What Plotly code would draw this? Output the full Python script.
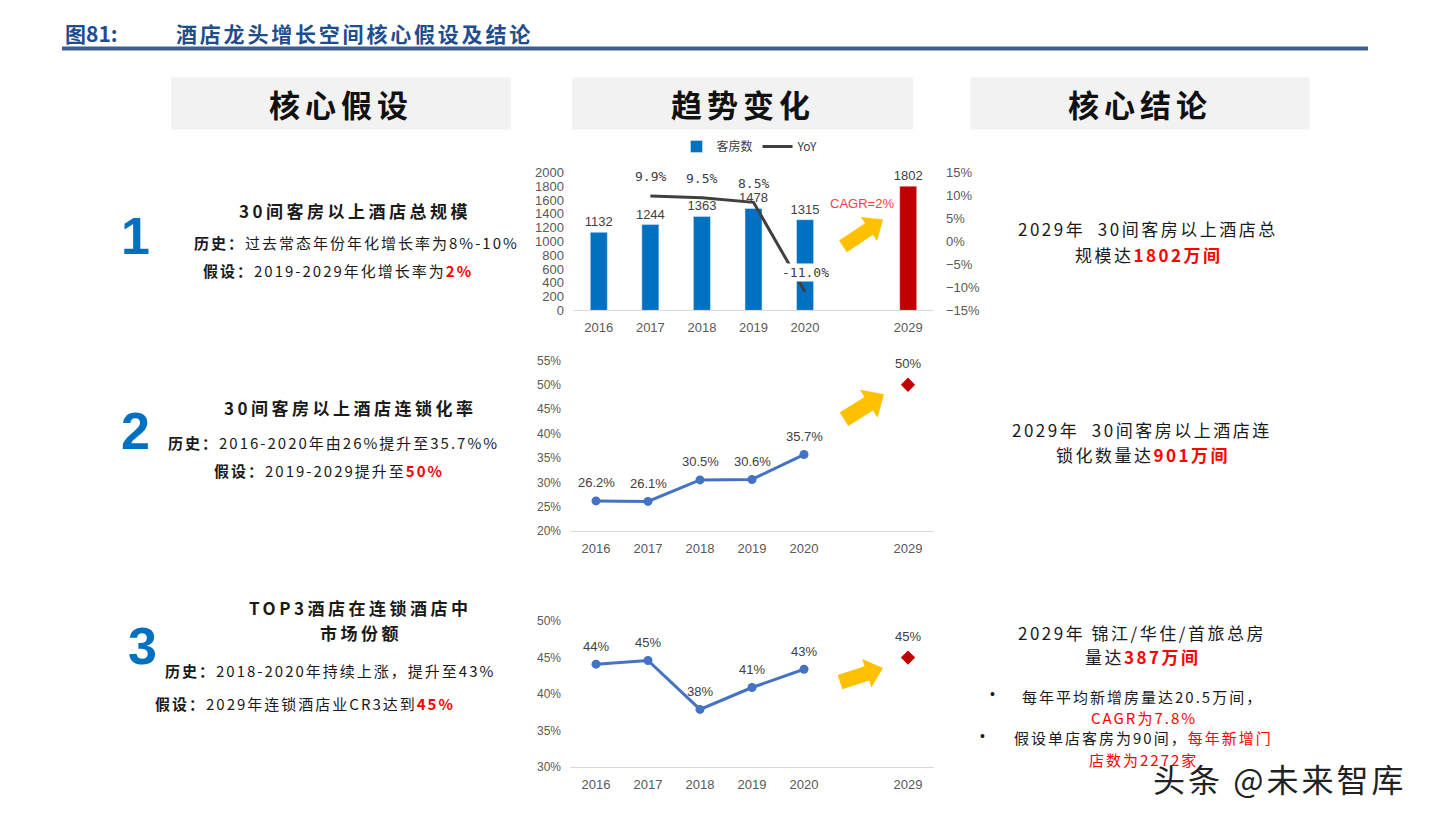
import math

import plotly.graph_objects as go

W, H = 1433, 821

# ── data ────────────────────────────────────────────────────────────────
categories = ["2016", "2017", "2018", "2019", "2020", " ", "2029"]
hist_years = ["2016", "2017", "2018", "2019", "2020"]
target_year = ["2029"]

rooms = [1132, 1244, 1363, 1478, 1315]          # 万间
rooms_2029 = [1802]
yoy_years = ["2017", "2018", "2019", "2020"]
yoy = [9.9, 9.5, 8.5, -11.0]                     # %

chain_rate = [26.2, 26.1, 30.5, 30.6, 35.7]      # %
chain_2029 = [50]

top3_share = [44.1, 44.6, 37.9, 40.9, 43.4]      # %
top3_2029 = [45]

# ── styles ──────────────────────────────────────────────────────────────
BAR_BLUE = "#0070C0"
DARK_RED = "#C00000"
LINE_BLUE = "#4472C4"
YOY_GREY = "#404040"
ARROW_YELLOW = "#FFC000"
TICK_GREY = "#595959"
EMPH_RED = "#FF0000"
TITLE_BLUE = "#1F4E8C"
CJK = "Noto Sans CJK SC"
LAT = "Liberation Sans, Arial, sans-serif"
MONO = "DejaVu Sans Mono, monospace"

# the page renders with a small offset / squeeze; positions below are given in
# reference-picture pixels and mapped back through these
PAGE_DX, PAGE_DY, PAGE_SY = 8.0, 14.4, 0.9825


def px(x):
    return (x - PAGE_DX) / W


def py(y):
    return 1 - ((y - PAGE_DY) / PAGE_SY) / H


def red(s):
    return f'<b><span style="color:{EMPH_RED}">{s}</span></b>'


def note(x, y, text, size, color="#1a1a1a", family=CJK, spacing=0,
         xanchor="center", bold=False):
    if bold:
        text = f"<b>{text}</b>"
    if spacing:
        text = f'<span style="letter-spacing:{spacing}px">{text}</span>'
    return dict(x=px(x), y=py(y), xref="paper", yref="paper", text=text,
                showarrow=False, xanchor=xanchor, yanchor="middle",
                font=dict(family=family, size=size, color=color))


def point_label(cat, val, text, xref, yref, shift=18, family=LAT, bg=None):
    return dict(x=categories.index(cat), y=val, xref=xref, yref=yref, text=text,
                showarrow=False, yshift=shift,
                bgcolor=bg or "rgba(0,0,0,0)",
                font=dict(family=family, size=13, color=YOY_GREY))


def block_arrow(tail, tip, shaft, head, head_len):
    (x0, y0), (x1, y1) = tail, tip
    dx, dy = x1 - x0, y1 - y0
    length = math.hypot(dx, dy)
    ux, uy = dx / length, dy / length
    nx, ny = -uy, ux
    bx, by = x1 - ux * head_len, y1 - uy * head_len
    pts = [
        (x0 + nx * shaft / 2, y0 + ny * shaft / 2),
        (bx + nx * shaft / 2, by + ny * shaft / 2),
        (bx + nx * head / 2, by + ny * head / 2),
        (x1, y1),
        (bx - nx * head / 2, by - ny * head / 2),
        (bx - nx * shaft / 2, by - ny * shaft / 2),
        (x0 - nx * shaft / 2, y0 - ny * shaft / 2),
    ]
    path = "M " + " L ".join(f"{px(a):.5f},{py(b):.5f}" for a, b in pts) + " Z"
    return dict(type="path", xref="paper", yref="paper", path=path,
                fillcolor=ARROW_YELLOW, line=dict(width=0), layer="above")


fig = go.Figure()

# ── chart 1: rooms + YoY ────────────────────────────────────────────────
fig.add_trace(go.Bar(
    x=hist_years, y=rooms, name="客房数", width=0.33,
    marker=dict(color=BAR_BLUE), text=rooms, textposition="outside",
    constraintext="none",
    textfont=dict(family=LAT, size=13, color=YOY_GREY), cliponaxis=False,
    xaxis="x", yaxis="y",
))
fig.add_trace(go.Bar(
    x=target_year, y=rooms_2029, name="2029E", width=0.33, showlegend=False,
    marker=dict(color=DARK_RED), text=rooms_2029, textposition="outside",
    constraintext="none",
    textfont=dict(family=LAT, size=13, color=YOY_GREY), cliponaxis=False,
    xaxis="x", yaxis="y",
))
fig.add_trace(go.Scatter(
    x=yoy_years, y=yoy, name="YoY", mode="lines",
    line=dict(color=YOY_GREY, width=3), xaxis="x", yaxis="y2",
))

# ── chart 2: chain rate ─────────────────────────────────────────────────
fig.add_trace(go.Scatter(
    x=hist_years, y=chain_rate, mode="lines+markers", showlegend=False,
    line=dict(color=LINE_BLUE, width=3), marker=dict(size=9, color=LINE_BLUE),
    cliponaxis=False, xaxis="x2", yaxis="y3",
))
fig.add_trace(go.Scatter(
    x=target_year, y=chain_2029, mode="markers", showlegend=False,
    marker=dict(size=11, color=DARK_RED, symbol="diamond"),
    cliponaxis=False, xaxis="x2", yaxis="y3",
))

# ── chart 3: TOP3 share ─────────────────────────────────────────────────
fig.add_trace(go.Scatter(
    x=hist_years, y=top3_share, mode="lines+markers", showlegend=False,
    line=dict(color=LINE_BLUE, width=3), marker=dict(size=9, color=LINE_BLUE),
    cliponaxis=False, xaxis="x3", yaxis="y4",
))
fig.add_trace(go.Scatter(
    x=target_year, y=top3_2029, mode="markers", showlegend=False,
    marker=dict(size=11, color=DARK_RED, symbol="diamond"),
    cliponaxis=False, xaxis="x3", yaxis="y4",
))

xcommon = dict(type="category", categoryorder="array", categoryarray=categories,
               range=[-0.5, 6.5], showline=True, linecolor="#D9D9D9", linewidth=1,
               showgrid=False, zeroline=False, ticks="", ticklabelstandoff=5,
               tickfont=dict(family=LAT, size=13, color=TICK_GREY), fixedrange=True)
ycommon = dict(showgrid=False, zeroline=False, showline=False, ticks="",
               ticklabelstandoff=8, fixedrange=True,
               tickfont=dict(family=LAT, size=12, color=TICK_GREY))

fig.update_layout(
    xaxis=dict(xcommon, domain=[px(573), px(934)], anchor="y"),
    yaxis=dict(ycommon, domain=[py(310), py(172)], anchor="x",
               range=[0, 2000], dtick=200,
               tickfont=dict(family=LAT, size=13, color=TICK_GREY)),
    yaxis2=dict(ycommon, overlaying="y", side="right", anchor="x",
                range=[-15, 15], dtick=5, ticksuffix="%", ticklabelstandoff=11,
                tickfont=dict(family=LAT, size=13, color=TICK_GREY)),
    xaxis2=dict(xcommon, domain=[px(570), px(934)], anchor="y3"),
    yaxis3=dict(ycommon, domain=[py(531), py(360)], anchor="x2",
                range=[20, 55], dtick=5, ticksuffix="%"),
    xaxis3=dict(xcommon, domain=[px(570), px(934)], anchor="y4"),
    yaxis4=dict(ycommon, domain=[py(767), py(621)], anchor="x3",
                range=[30, 50], dtick=5, ticksuffix="%"),
    barmode="overlay",
    width=W, height=H, autosize=False,
    margin=dict(l=0, r=0, t=0, b=0),
    paper_bgcolor="white", plot_bgcolor="white",
    font=dict(family=CJK, color="#1a1a1a"),
    showlegend=True,
    legend=dict(orientation="h", x=px(750), y=py(146), xanchor="center",
                yanchor="middle", bgcolor="rgba(0,0,0,0)",
                font=dict(family=CJK, size=12, color=YOY_GREY),
                itemwidth=30, tracegroupgap=0),
)

# ── shapes: title rule, header boxes, arrows ───────────────────────────
shapes = [
    dict(type="line", xref="paper", yref="paper", x0=px(62), x1=px(1368),
         y0=py(48), y1=py(48), line=dict(color="#3A5F8F", width=4)),
]
for x0, x1 in [(171, 511), (572, 913), (970, 1310)]:
    shapes.append(dict(type="rect", xref="paper", yref="paper", x0=px(x0), x1=px(x1),
                       y0=py(129), y1=py(77), fillcolor="#F2F2F2", line=dict(width=0),
                       layer="below"))
shapes.append(block_arrow((843, 246), (883, 219), 14, 29, 17))
shapes.append(block_arrow((844, 419), (884, 394), 16, 33, 18))
shapes.append(block_arrow((840, 682), (883, 668), 15, 30, 17))
fig.update_layout(shapes=shapes)

# ── annotations ─────────────────────────────────────────────────────────
ann = []

# data labels
for yr, v in zip(yoy_years, yoy):
    ann.append(point_label(yr, v, f"{v:.1f}%", "x", "y2", shift=19, family=MONO,
                           bg="white" if v < 0 else None))
for yr, v in zip(hist_years, chain_rate):
    ann.append(point_label(yr, v, f"{v:.1f}%", "x2", "y3"))
for yr, v in zip(target_year, chain_2029):
    ann.append(point_label(yr, v, f"{v}%", "x2", "y3", shift=21))
for yr, v in zip(hist_years, top3_share):
    ann.append(point_label(yr, v, f"{v:.0f}%", "x3", "y4"))
for yr, v in zip(target_year, top3_2029):
    ann.append(point_label(yr, v, f"{v}%", "x3", "y4", shift=21))
ann.append(note(862, 203, "CAGR=2%", 13, color="#FF4040", family=LAT))

# page title
ann.append(note(63, 32, "图81:", 21, color=TITLE_BLUE, xanchor="left", bold=True))
ann.append(note(174, 32, "酒店龙头增长空间核心假设及结论", 21, color=TITLE_BLUE,
                xanchor="left", bold=True, spacing=2.8))

# column headers
for cx, label in [(341, "核心假设"), (743, "趋势变化"), (1140, "核心结论")]:
    ann.append(note(cx, 103, label, 31, color="#111111", bold=True, spacing=5))

# big section numbers
for cx, cy, n in [(135, 236, "1"), (135, 431, "2"), (142, 646, "3")]:
    ann.append(note(cx, cy, n, 52, color=BAR_BLUE, family=LAT, bold=True))

# left: assumptions
ann += [
    note(355, 210, "30间客房以上酒店总规模", 17, bold=True, spacing=3.5),
    note(356, 242, "<b>历史：</b>过去常态年份年化增长率为8%-10%", 15, spacing=2),
    note(338, 270, "<b>假设：</b>2019-2029年化增长率为" + red("2%"), 15, spacing=2),

    note(350, 407, "30间客房以上酒店连锁化率", 17, bold=True, spacing=3.5),
    note(333, 442, "<b>历史：</b>2016-2020年由26%提升至35.7%%", 15, spacing=2),
    note(329, 470, "<b>假设：</b>2019-2029提升至" + red("50%"), 15, spacing=2),

    note(360, 607, "TOP3酒店在连锁酒店中", 17, bold=True, spacing=3.5),
    note(361, 632, "市场份额", 17, bold=True, spacing=3.5),
    note(330, 670, "<b>历史：</b>2018-2020年持续上涨，提升至43%", 15, spacing=2),
    note(305, 703, "<b>假设：</b>2029年连锁酒店业CR3达到" + red("45%"), 15, spacing=2),
]

# right: conclusions
ann += [
    note(1148, 228, "2029年  30间客房以上酒店总", 17, spacing=2.5),
    note(1149, 254, "规模达" + red("1802万间"), 17, spacing=2.5),
    note(1142, 429, "2029年  30间客房以上酒店连", 17, spacing=2.5),
    note(1143, 454, "锁化数量达" + red("901万间"), 17, spacing=2.5),
    note(1142, 632, "2029年 锦江/华住/首旅总房", 17, spacing=2.5),
    note(1143, 656, "量达" + red("387万间"), 17, spacing=2.5),

    note(992, 694, "•", 14, family=LAT),
    note(1142, 696, "每年平均新增房量达20.5万间，", 15, spacing=2),
    note(1144, 717, f'<span style="color:{EMPH_RED}">CAGR为7.8%</span>', 15, spacing=2),
    note(983, 736, "•", 14, family=LAT),
    note(1143, 737, f'假设单店客房为90间，<span style="color:{EMPH_RED}">每年新增门</span>',
         15, spacing=2),
    note(1143, 759, f'<span style="color:{EMPH_RED}">店数为2272家</span>', 15, spacing=2),
]

# watermark
ann.append(note(1279, 778, "头条 @未来智库", 32, color="#222222", spacing=3))

fig.update_layout(annotations=ann)

fig.write_html("out.html", config={"displayModeBar": False})
